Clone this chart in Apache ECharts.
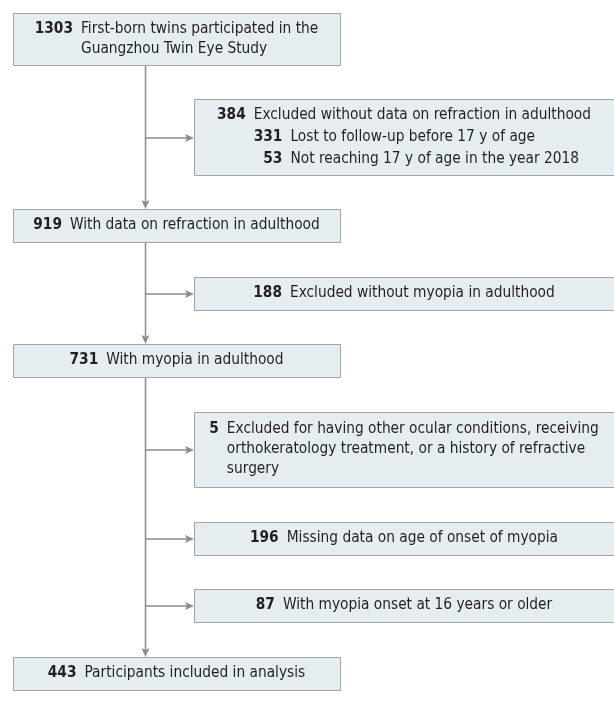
<!DOCTYPE html>
<html>
<head>
<meta charset="utf-8">
<style>
  html, body { margin: 0; padding: 0; background: #fff; }
  #chart { width: 614px; height: 709px; }
</style>
<script src="https://cdn.jsdelivr.net/npm/echarts@6/dist/echarts.min.js"></script>
</head>
<body>
<div id="chart"></div>
<script>
// Flow of participants - main path boxes on the left, exclusions to the right.
const mainCounts = [1303, 919, 731, 443];
const mainLabels = [
  ['First-born twins participated in the', 'Guangzhou Twin Eye Study'],
  ['With data on refraction in adulthood'],
  ['With myopia in adulthood'],
  ['Participants included in analysis'],
];
const exclCounts = [384, 188, 5, 196, 87];
const exclLabels = [
  ['Excluded without data on refraction in adulthood'],
  ['Excluded without myopia in adulthood'],
  ['Excluded for having other ocular conditions, receiving', 'orthokeratology treatment, or a history of refractive', 'surgery'],
  ['Missing data on age of onset of myopia'],
  ['With myopia onset at 16 years or older'],
];
const subCounts = [331, 53];
const subLabels = ['Lost to follow-up before 17 y of age', 'Not reaching 17 y of age in the year 2018'];

// layout (pixels, y downwards)
const mainX = [13, 340];
const mainY = [[13, 65], [209, 242], [344, 377], [657, 690]];
const exclX = [194, 614];
const exclY = [[99, 175], [277, 310], [412, 487], [522, 555], [589, 622]];
const branchY = [138, 294, 450, 539, 606];
const trunkX = 145.5;

const FAMILY = '"Liberation Sans Narrow", "DejaVu Sans Condensed", sans-serif';
const FS = 15.3, LH = 20, GAP = 8;
const INK = '#231f20', LINE = '#8c8c8c';

const ctx = document.createElement('canvas').getContext('2d');
const measure = (s, bold) => { ctx.font = (bold ? 'bold ' : '') + FS + 'px ' + FAMILY; return ctx.measureText(s).width; };

// build box list
const boxes = [];
mainCounts.forEach((c, i) => boxes.push({
  x: mainX, y: mainY[i], num: String(c), lines: mainLabels[i], subs: [], lh: LH,
}));
exclCounts.forEach((c, i) => boxes.push({
  x: exclX, y: exclY[i], num: String(c), lines: exclLabels[i],
  subs: i === 0 ? subCounts.map((n, k) => ({ num: String(n), text: subLabels[k] })) : [],
  lh: i === 0 ? 22 : LH,
}));

// connectors: [x1, y1, x2, y2]
const arrows = [];
for (let i = 0; i < mainY.length - 1; i++) arrows.push([trunkX, mainY[i][1], trunkX, mainY[i + 1][0]]);
branchY.forEach((y, i) => arrows.push([trunkX, y, exclX[0], y]));

const chart = echarts.init(document.getElementById('chart'), null, { renderer: 'canvas' });

function renderBox(params, api) {
  const b = boxes[params.dataIndex];
  const p0 = api.coord([b.x[0], b.y[0]]);
  const p1 = api.coord([b.x[1], b.y[1]]);
  const children = [{
    type: 'rect',
    shape: { x: p0[0] + 0.5, y: p0[1] + 0.5, width: p1[0] - p0[0], height: p1[1] - p0[1] },
    style: { fill: '#e6edf1', stroke: '#a3a3a3', lineWidth: 1 },
  }];
  const numW = measure(b.num, true);
  const textOff = numW + GAP;
  let widest = 0;
  b.lines.forEach(t => { widest = Math.max(widest, textOff + measure(t)); });
  const subNumW = Math.max(0, ...b.subs.map(s => measure(s.num, true)));
  b.subs.forEach(s => { widest = Math.max(widest, textOff + subNumW + GAP + measure(s.text)); });
  const nLines = b.lines.length + b.subs.length;
  const cx = (p0[0] + p1[0]) / 2, cy = (p0[1] + p1[1]) / 2;
  const left = cx - widest / 2;
  const top = cy - (nLines - 1) * b.lh / 2;
  const txt = (x, y, s, bold, align) => ({
    type: 'text', x, y,
    style: { text: s, fill: INK, font: (bold ? 'bold ' : '') + FS + 'px ' + FAMILY,
      align: align || 'left', verticalAlign: 'middle' },
  });
  children.push(txt(left, top, b.num, true));
  b.lines.forEach((t, k) => children.push(txt(left + textOff, top + k * b.lh, t)));
  b.subs.forEach((s, k) => {
    const y = top + (b.lines.length + k) * b.lh;
    children.push(txt(left + textOff + subNumW, y, s.num, true, 'right'));
    children.push(txt(left + textOff + subNumW + GAP, y, s.text));
  });
  return { type: 'group', children };
}

function renderArrow(params, api) {
  const a = arrows[params.dataIndex];
  const s = api.coord([a[0], a[1]]), e = api.coord([a[2], a[3]]);
  const horiz = Math.abs(e[1] - s[1]) < 1;
  const L = 9, W = 4;
  let head;
  if (horiz) head = [[e[0], e[1]], [e[0] - L, e[1] - W], [e[0] - L + 2, e[1]], [e[0] - L, e[1] + W]];
  else head = [[e[0], e[1]], [e[0] - W, e[1] - L], [e[0], e[1] - L + 2], [e[0] + W, e[1] - L]];
  const end = horiz ? [e[0] - L + 2, e[1]] : [e[0], e[1] - L + 2];
  return {
    type: 'group', children: [
      { type: 'line', shape: { x1: s[0], y1: s[1], x2: end[0], y2: end[1] },
        style: { stroke: LINE, lineWidth: 1.5 } },
      { type: 'polygon', shape: { points: head }, style: { fill: LINE } },
    ],
  };
}

chart.setOption({
  animation: false,
  grid: { left: 0, right: 0, top: 0, bottom: 0 },
  xAxis: { type: 'value', min: 0, max: 614, show: false },
  yAxis: { type: 'value', min: 0, max: 709, inverse: true, show: false },
  series: [
    { type: 'custom', renderItem: renderArrow, data: arrows.map((a, i) => i), silent: true },
    { type: 'custom', renderItem: renderBox, data: boxes.map((b, i) => i), silent: true },
  ],
});
</script>
</body>
</html>
